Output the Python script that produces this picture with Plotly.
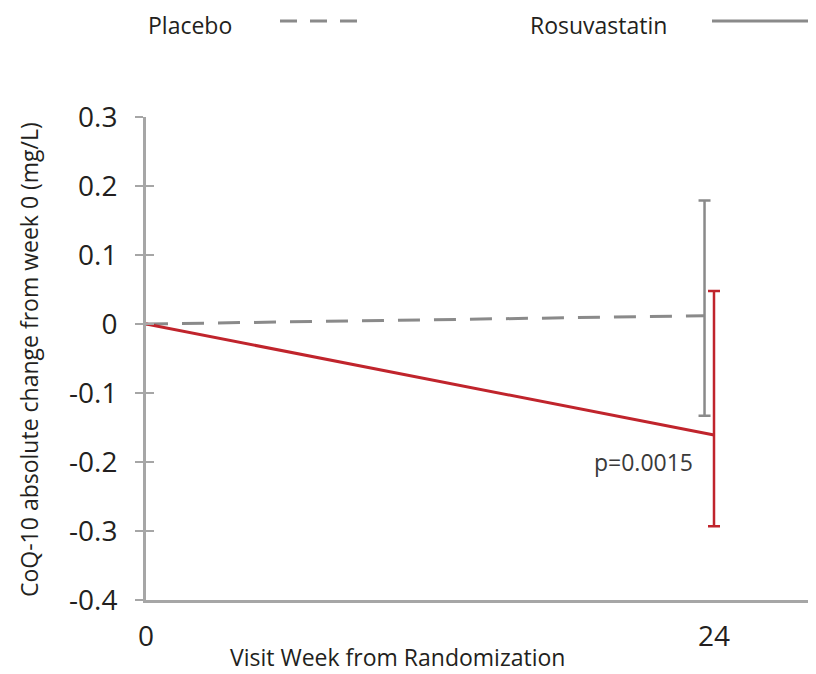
import plotly.graph_objects as go

weeks = [0, 24]
placebo_x = [0, 23.6]
placebo_mean = [0.0, 0.012]
placebo_err_plus = [0.167]
placebo_err_minus = [0.145]
rosu_mean = [0.0, -0.161]
rosu_err_plus = [0.209]
rosu_err_minus = [0.132]
x_ticks = [0, 24]
y_ticks = [0.3, 0.2, 0.1, 0, -0.1, -0.2, -0.3, -0.4]
y_tick_text = ["0.3", "0.2", "0.1", "0", "-0.1", "-0.2", "-0.3", "-0.4"]

GRAY = "#8a8a8a"
RED = "#c0242c"
AXIS = "#a6a6a6"
TXT = "#231f20"
FONT = "Open Sans"

# page has an 8px body margin: screen = page + 8
OX, OY = 8, 8
W, H = 816, 674
pl, pr, pt, pb = 146 - OX, 0, 117 - OY, H - (600 - OY)
pw, ph = W - pl - pr, H - pt - pb
def px(x):
    return (x - OX - pl) / pw
def py(y):
    return (H - pb - (y - OY)) / ph

xmax = 24 * pw / (714 - 146)

fig = go.Figure()
fig.add_trace(go.Scatter(x=placebo_x, y=placebo_mean, mode="lines",
                         line=dict(color=GRAY, width=3, dash="22px,14px"),
                         showlegend=False, hoverinfo="skip"))
fig.add_trace(go.Scatter(x=placebo_x[1:], y=placebo_mean[1:], mode="markers",
                         marker=dict(size=1, color="rgba(0,0,0,0)"),
                         error_y=dict(type="data", symmetric=False,
                                      array=placebo_err_plus, arrayminus=placebo_err_minus,
                                      color=GRAY, thickness=2.5, width=6),
                         showlegend=False))
fig.add_trace(go.Scatter(x=weeks, y=rosu_mean, mode="lines",
                         line=dict(color=RED, width=3),
                         showlegend=False))
fig.add_trace(go.Scatter(x=weeks[1:], y=rosu_mean[1:], mode="markers",
                         marker=dict(size=1, color="rgba(0,0,0,0)"),
                         error_y=dict(type="data", symmetric=False,
                                      array=rosu_err_plus, arrayminus=rosu_err_minus,
                                      color=RED, thickness=2.5, width=6),
                         showlegend=False))
fig.add_trace(go.Scatter(x=[None], y=[None], yaxis="y2", showlegend=False))

fig.add_annotation(x=24, y=-0.2, xref="x", yref="y", text="p=0.0015",
                   showarrow=False, xanchor="right", xshift=-19, yshift=0,
                   font=dict(family=FONT, size=23, color="#3a3a3a"))

# Legend (text then line sample)
fig.add_annotation(x=px(147), y=1 + pt / ph, xref="paper", yref="paper", text="Placebo",
                   showarrow=False, xanchor="left", yanchor="top", borderpad=0,
                   font=dict(family=FONT, size=23, color=TXT))
fig.add_annotation(x=px(529), y=1 + pt / ph, xref="paper", yref="paper", text="Rosuvastatin",
                   showarrow=False, xanchor="left", yanchor="top", borderpad=0,
                   font=dict(family=FONT, size=23, color=TXT))
fig.add_shape(type="line", xref="paper", yref="paper", x0=px(280), x1=px(366),
              y0=py(21), y1=py(21), line=dict(color=GRAY, width=3, dash="17px,13px"))
fig.add_shape(type="line", xref="paper", yref="paper", x0=px(712), x1=px(812),
              y0=py(21), y1=py(21), line=dict(color=GRAY, width=3))

# Axis titles as annotations for exact placement
fig.add_annotation(x=px(397), y=py(657), xref="paper", yref="paper",
                   text="Visit Week from Randomization", showarrow=False,
                   xanchor="center", yanchor="middle", borderpad=0,
                   font=dict(family=FONT, size=23, color=TXT))
fig.add_annotation(x=px(29), y=py(360), xref="paper", yref="paper",
                   text="CoQ-10 absolute change from week 0 (mg/L)", showarrow=False,
                   textangle=-90, xanchor="center", yanchor="middle",
                   font=dict(family=FONT, size=23, color=TXT))

fig.update_layout(
    width=W, height=H,
    margin=dict(l=pl, r=pr, t=pt, b=pb, autoexpand=False),
    paper_bgcolor="white", plot_bgcolor="white",
    font=dict(family=FONT, color=TXT),
    xaxis=dict(range=[0, xmax], tickvals=x_ticks, ticktext=[str(v) for v in x_ticks],
               showgrid=False, zeroline=False, showline=True, linecolor=AXIS, linewidth=3,
               ticks="", tickfont=dict(family=FONT, size=28, color=TXT),
               ticklabelstandoff=9, automargin=False),
    yaxis=dict(range=[-0.4, 0.3], tickvals=y_ticks, ticktext=y_tick_text,
               showgrid=False, zeroline=False, showline=True, linecolor=AXIS, linewidth=3,
               ticks="outside", ticklen=8, tickwidth=2, tickcolor=AXIS,
               tickfont=dict(family=FONT, size=28, color=TXT), ticklabelstandoff=12,
               automargin=False),
    yaxis2=dict(range=[-0.4, 0.3], tickvals=y_ticks, overlaying="y", side="left",
                showticklabels=False, ticks="inside", ticklen=8, tickwidth=2,
                tickcolor=AXIS, showgrid=False, zeroline=False, showline=False,
                automargin=False),
)

fig.write_html("out.html")
